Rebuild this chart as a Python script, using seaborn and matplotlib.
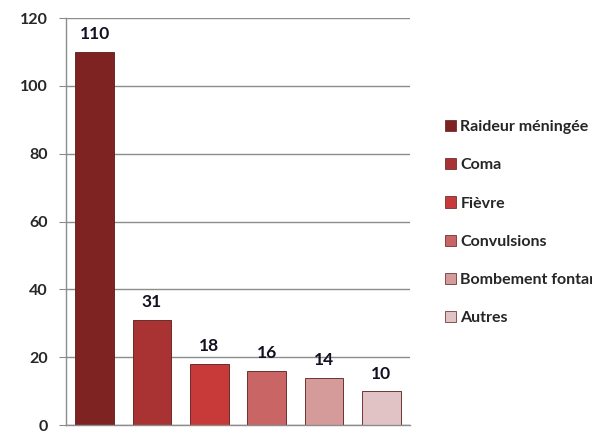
import pandas as pd
import seaborn as sns
import matplotlib.pyplot as plt

categories = ["Raideur méningée", "Coma", "Fièvre", "Convulsions",
              "Bombement fontanelle", "Autres"]
values = [110, 31, 18, 16, 14, 10]
colors = ["#7e2222", "#a93333", "#c83a3a", "#c96565", "#d59a9a", "#e2c3c5"]
yticks = [0, 20, 40, 60, 80, 100, 120]

df = pd.DataFrame({"cat": categories, "val": values})

sns.set_style("white")
plt.rcParams['font.family'] = ['Lato', 'DejaVu Sans']

fig = plt.figure(figsize=(5.92, 4.32), dpi=100)
ax = fig.add_axes([0.1115, 0.0162, 0.581, 0.942])

sns.barplot(data=df, x="cat", y="val", hue="cat", palette=colors,
            order=categories, hue_order=categories, dodge=False,
            width=0.67, saturation=1, edgecolor="#5a1a1a", linewidth=0.6,
            legend=False, ax=ax)

ax.set_ylim(0, 120)
ax.set_xlim(-0.5, len(categories) - 0.5)
ax.set_yticks(yticks)
ax.set_yticklabels([str(t) for t in yticks], fontsize=11.5, fontweight="bold")
ax.set_xticks([])
ax.set_xlabel("")
ax.set_ylabel("")
ax.yaxis.grid(True, color="#8c8c8c", linewidth=1)
ax.set_axisbelow(True)
ax.tick_params(axis="y", length=5, color="#8c8c8c", left=True, pad=8)
for s in ["top", "right"]:
    ax.spines[s].set_visible(False)
for s in ["left", "bottom"]:
    ax.spines[s].set_color("#8c8c8c")
    ax.spines[s].set_linewidth(1)

for i, v in enumerate(values):
    ax.text(i, v + 2.8, str(v), ha="center", va="bottom",
            fontsize=12.5, fontweight="bold", color="#111122")

handles = [plt.Rectangle((0, 0), 1, 1, facecolor=c, edgecolor="#5a1a1a",
                         linewidth=0.5) for c in colors]
leg = fig.legend(handles, categories, loc="upper left",
                 bbox_to_anchor=(0.752, 0.722), bbox_transform=fig.transFigure,
                 frameon=False, borderpad=0, borderaxespad=0,
                 handlelength=0.7, handleheight=0.7, handletextpad=0.25,
                 labelspacing=1.5,
                 prop={"size": 11.5, "weight": "bold"})

fig.savefig("out.png", dpi=100)
